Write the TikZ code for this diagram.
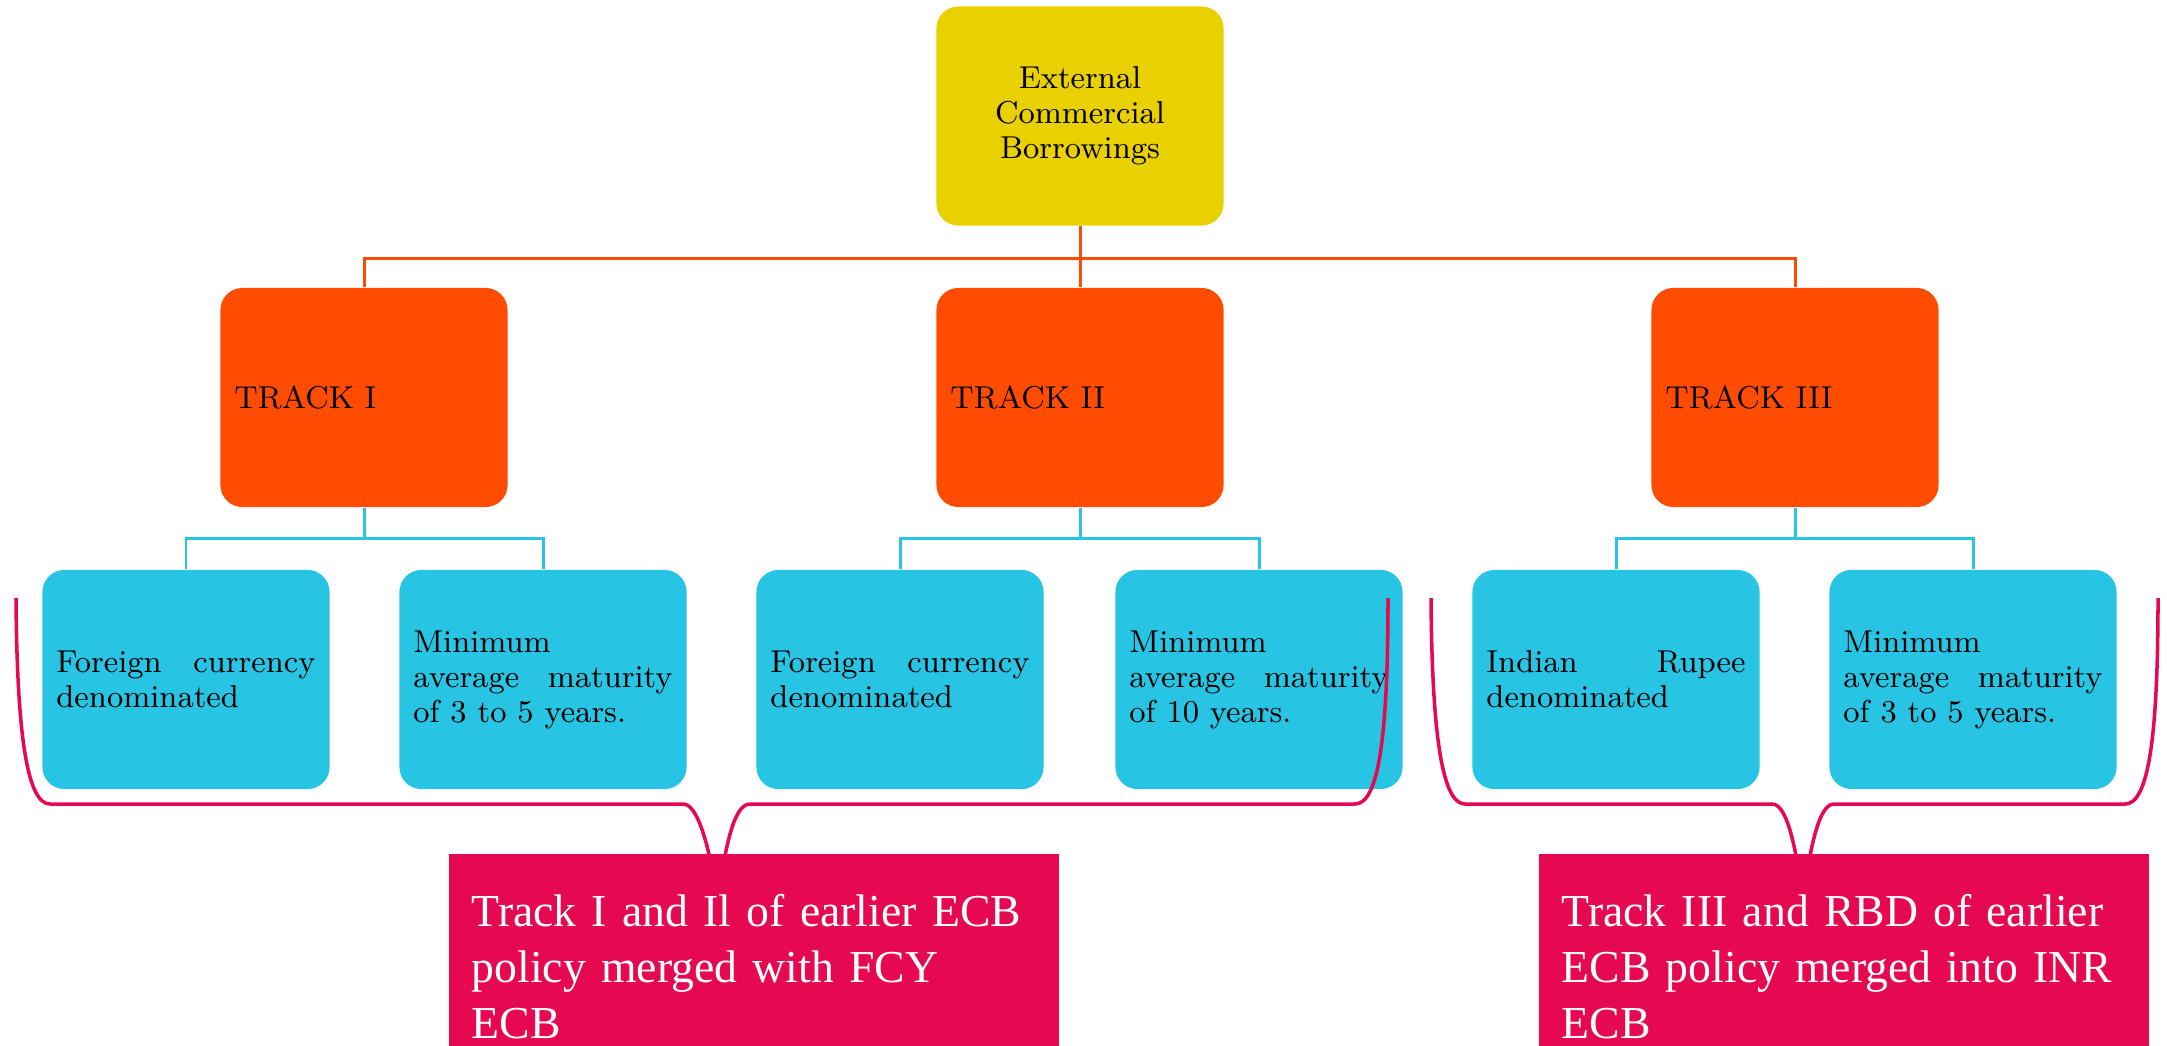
\documentclass[tikz,border=0pt]{standalone}
\usepackage{fontspec}
\newfontfamily\notefont{Liberation Serif}

\definecolor{ecbyellow}{RGB}{233,208,0}
\definecolor{trackorange}{RGB}{255,76,0}
\definecolor{leafblue}{RGB}{39,197,227}
\definecolor{notepink}{RGB}{230,8,80}

\tikzset{
  box/.style={rounded corners=0.22cm, minimum width=2.87cm, minimum height=2.19cm,
    inner xsep=0.14cm, inner ysep=0pt, text width=2.59cm,
    font=\fontsize{9}{9.96}\selectfont},
  rootbox/.style={box, fill=ecbyellow, align=center},
  trackbox/.style={box, fill=trackorange, align=left},
  leafbox/.style={box, fill=leafblue, align=justify},
  notebox/.style={fill=notepink, text=white, anchor=north west, minimum width=6.1cm,
    text width=5.64cm, inner xsep=0.23cm, inner ysep=0.41cm, align=left,
    font=\notefont\fontsize{13}{15.93}\selectfont},
  orangeline/.style={draw=trackorange, line width=0.85pt},
  blueline/.style={draw=leafblue, line width=0.85pt},
  braceline/.style={draw=notepink, line width=1pt},
}

\begin{document}
\begin{tikzpicture}[x=0.01cm, y=-0.01cm]
  \useasboundingbox (0,0) rectangle (2167,1045);

  % Radice e binari
  \node[rootbox] (ecb) at (1080,116) {External\\ Commercial\\ Borrowings};
  \node[trackbox] (t1) at (364,397.5) {TRACK I};
  \node[trackbox] (t2) at (1080,397.5) {TRACK II};
  \node[trackbox] (t3) at (1795,397.5) {TRACK III};

  \draw[orangeline] (ecb.south) -- ++(0,32) coordinate (bus) -| (t1.north);
  \draw[orangeline] (bus) -| (t3.north);
  \draw[orangeline] (bus) -- (t2.north);

  % Foglie
  \node[leafbox] (l1) at (186,679.5) {Foreign currency\linebreak denominated};
  \node[leafbox] (l2) at (543,679.5) {Minimum\\ average maturity\linebreak of 3 to 5 years.};
  \node[leafbox] (l3) at (900,679.5) {Foreign currency\linebreak denominated};
  \node[leafbox] (l4) at (1259,679.5) {Minimum\\ average maturity\linebreak of 10 years.};
  \node[leafbox] (l5) at (1616,679.5) {Indian Rupee\linebreak denominated};
  \node[leafbox] (l6) at (1973,679.5) {Minimum\\ average maturity\linebreak of 3 to 5 years.};

  \draw[blueline] (t1.south) -- ++(0,31) coordinate (b1) -| (l1.north);
  \draw[blueline] (b1) -| (l2.north);
  \draw[blueline] (t2.south) -- ++(0,31) coordinate (b2) -| (l3.north);
  \draw[blueline] (b2) -| (l4.north);
  \draw[blueline] (t3.south) -- ++(0,31) coordinate (b3) -| (l5.north);
  \draw[blueline] (b3) -| (l6.north);

  % Parentesi
  \draw[braceline] (16,598) .. controls (17,740) and (28,804) .. (50,804) -- (683,804)
    .. controls (697,804) and (708,840) .. (718,900)
    .. controls (726,840) and (735,804) .. (750,804) -- (1355,804)
    .. controls (1378,804) and (1388,740) .. (1388,598);
  \draw[braceline] (1431,598) .. controls (1432,740) and (1443,804) .. (1465,804) -- (1772,804)
    .. controls (1786,804) and (1795,840) .. (1803,900)
    .. controls (1811,840) and (1820,804) .. (1834,804) -- (2125,804)
    .. controls (2148,804) and (2158,740) .. (2158,598);

  % Note
  \node[notebox] (fcy) at (448,853) {Track I and Il of earlier ECB\\ policy merged with FCY\\ ECB};
  \node[notebox] (inr) at (1538,853) {Track III and RBD of earlier\\ ECB policy merged into INR\\ ECB};
\end{tikzpicture}
\end{document}
